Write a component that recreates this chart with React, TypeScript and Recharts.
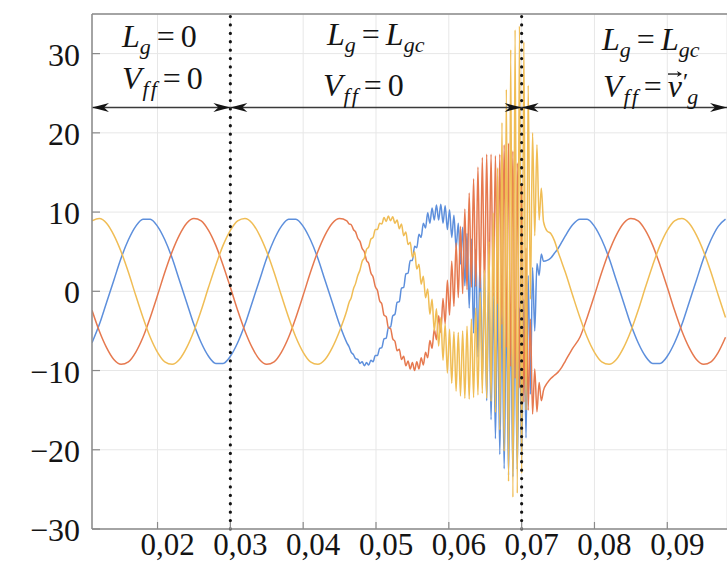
import React from 'react';
import { LineChart, Line, XAxis, YAxis, CartesianGrid, ReferenceLine, ReferenceDot } from 'recharts';

// ---- sample times (s) ----
const timeBefore = [
  0.011, 0.012, 0.013, 0.014, 0.015, 0.016, 0.017, 0.018, 0.019, 0.02,
  0.021, 0.022, 0.023, 0.024, 0.025, 0.026, 0.027, 0.028, 0.029, 0.03,
  0.031, 0.032, 0.033, 0.034, 0.035, 0.036, 0.037, 0.038, 0.039, 0.04,
  0.041, 0.042, 0.043, 0.044, 0.045, 0.046,
];
const timeUnstable = [
  0.0463, 0.0466, 0.0469, 0.0472, 0.0475, 0.0478, 0.0481, 0.0484, 0.0487, 0.049,
  0.0493, 0.0496, 0.0499, 0.0502, 0.0505, 0.0508, 0.0511, 0.0514, 0.0517, 0.052,
  0.0523, 0.0526, 0.0529, 0.0532, 0.0535, 0.0538, 0.0541, 0.0544, 0.0547, 0.055,
  0.0553, 0.0556, 0.0559, 0.0562, 0.0565, 0.0568, 0.0571, 0.0574, 0.0577, 0.058,
  0.0583, 0.0586, 0.0589, 0.0592, 0.0595, 0.0598, 0.0601, 0.0604, 0.0607, 0.061,
  0.0613, 0.0616, 0.0619, 0.0622, 0.0625, 0.0628, 0.0631, 0.0634, 0.0637, 0.064,
  0.0643, 0.0646, 0.0649, 0.0652, 0.0655, 0.0658, 0.0661, 0.0664, 0.0667, 0.067,
  0.0673, 0.0676, 0.0679, 0.0682, 0.0685, 0.0688, 0.0691, 0.0694, 0.0697, 0.07,
  0.0703, 0.0706, 0.0709, 0.0712, 0.0715, 0.0718, 0.0721, 0.0724, 0.0727,
];
const timeAfter = [
  0.073, 0.0735, 0.074, 0.0745, 0.075, 0.0755, 0.076, 0.077, 0.078, 0.079,
  0.08, 0.081, 0.082, 0.083, 0.084, 0.085, 0.086, 0.087, 0.088, 0.089,
  0.09, 0.091, 0.092, 0.093, 0.094, 0.095, 0.096, 0.097, 0.098,
];

// ---- phase a (blue) ----
const phaseABefore = [
  -6.5, -4.2, -1.4, 1.4, 4.2, 6.5, 8.2, 9.1, 9.1, 8.2,
  6.5, 4.2, 1.4, -1.4, -4.2, -6.5, -8.2, -9.1, -9.1, -8.2,
  -6.5, -4.2, -1.4, 1.4, 4.2, 6.5, 8.2, 9.1, 9.1, 8.2,
  6.5, 4.2, 1.4, -1.4, -4.2, -6.5,
];
const phaseAUnstable = [
  -7.0, -7.7, -8.0, -8.5, -8.6, -9.1, -8.9, -9.4, -9.0, -9.3,
  -8.7, -8.9, -8.1, -8.1, -7.2, -7.1, -6.0, -5.9, -4.6, -4.5,
  -3.1, -2.9, -1.4, -1.3, 0.4, 0.5, 2.2, 2.3, 3.9, 3.9,
  5.7, 5.5, 7.2, 6.8, 8.6, 8.0, 9.9, 8.6, 10.5, 9.0,
  10.9, 9.0, 11.0, 8.6, 10.8, 7.8, 10.3, 6.8, 9.6, 5.5,
  8.6, 3.4, 8.1, 0.7, 7.3, -2.1, 6.6, -5.3, 5.3, -8.3,
  4.1, -11.2, 2.6, -13.8, 1.0, -16.2, -0.2, -18.6, -1.1, -20.6,
  -1.6, -22.4, -2.0, -23.2, -2.5, -23.4, -2.3, -22.5, -2.1, -21.6,
  -1.0, -18.5, 2.0, -13.0, 3.0, -5.0, 3.5, 2.0, 4.7,
];
const phaseAAfter = [
  3.8, 3.9, 4.2, 4.8, 5.4, 6.2, 7.0, 8.4, 9.1, 9.1,
  8.2, 6.5, 4.2, 1.4, -1.4, -4.2, -6.5, -8.2, -9.1, -9.1,
  -8.2, -6.5, -4.2, -1.4, 1.4, 4.2, 6.5, 8.2, 9.1,
];

// ---- phase b (red) ----
const phaseBBefore = [
  -2.4, -5.0, -7.1, -8.6, -9.2, -8.9, -7.7, -5.8, -3.3, -0.5,
  2.4, 5.0, 7.1, 8.6, 9.2, 8.9, 7.7, 5.8, 3.3, 0.5,
  -2.4, -5.0, -7.1, -8.6, -9.2, -8.9, -7.7, -5.8, -3.3, -0.5,
  2.4, 5.0, 7.1, 8.6, 9.2, 8.9,
];
const phaseBUnstable = [
  8.5, 8.4, 7.8, 7.5, 6.7, 6.3, 5.4, 5.0, 3.9, 3.5,
  2.3, 1.8, 0.6, 0.1, -1.2, -1.6, -3.0, -3.2, -4.6, -4.7,
  -6.0, -6.3, -7.5, -7.3, -8.6, -8.2, -9.4, -8.8, -9.8, -9.0,
  -10.0, -8.9, -9.8, -8.4, -9.3, -7.7, -8.4, -6.2, -7.2, -4.8,
  -6.1, -3.1, -5.2, -0.9, -4.1, 1.4, -3.0, 3.8, -1.9, 6.1,
  -0.8, 8.2, -0.3, 10.4, 0.2, 12.4, 0.5, 14.2, 0.6, 15.7,
  0.4, 16.9, 0.2, 17.3, 0.0, 17.3, -0.6, 17.1, -1.6, 17.3,
  -4.2, 18.5, -7.1, 18.7, -9.5, 17.7, -11.0, 16.2, -12.2, 13.5,
  -14.0, 5.5, -15.0, -3.5, -15.5, -9.8, -15.2, -11.5, -13.8,
];
const phaseBAfter = [
  -12.5, -11.6, -11.0, -10.6, -10.2, -9.6, -8.8, -7.2, -5.8, -3.3,
  -0.5, 2.4, 5.0, 7.1, 8.6, 9.2, 8.9, 7.7, 5.8, 3.3,
  0.5, -2.4, -5.0, -7.1, -8.6, -9.2, -8.9, -7.7, -5.8,
];

// ---- phase c (yellow) ----
const phaseCBefore = [
  8.9, 9.2, 8.6, 7.1, 5.0, 2.4, -0.5, -3.3, -5.8, -7.7,
  -8.9, -9.2, -8.6, -7.1, -5.0, -2.4, 0.5, 3.3, 5.8, 7.7,
  8.9, 9.2, 8.6, 7.1, 5.0, 2.4, -0.5, -3.3, -5.8, -7.7,
  -8.9, -9.2, -8.6, -7.1, -5.0, -2.4,
];
const phaseCUnstable = [
  -1.4, -0.8, 0.3, 1.0, 2.0, 2.7, 3.8, 4.2, 5.3, 5.6,
  6.6, 6.8, 7.8, 7.8, 8.6, 8.5, 9.3, 8.8, 9.5, 8.9,
  9.4, 8.6, 9.0, 7.9, 8.5, 7.0, 7.5, 5.9, 6.2, 4.3,
  5.0, 2.8, 3.4, 0.9, 1.9, -0.8, 0.3, -2.9, -1.0, -5.0,
  -2.2, -6.9, -3.3, -8.7, -4.1, -10.3, -4.8, -11.6, -5.1, -12.6,
  -5.2, -13.2, -5.0, -13.5, -4.4, -13.6, -3.5, -13.4, -2.1, -13.1,
  -0.1, -12.9, 2.7, -13.5, 6.3, -13.9, 9.9, -15.3, 15.6, -17.5,
  21.3, -20.2, 25.5, -24.0, 30.5, -26.0, 33.0, -25.5, 33.5, -23.0,
  31.5, -15.0, 26.0, -1.0, 20.0, 7.0, 18.5, 9.0, 13.0,
];
const phaseCAfter = [
  8.8, 7.6, 7.3, 6.4, 5.0, 3.7, 2.4, -0.5, -3.3, -5.8,
  -7.7, -8.9, -9.2, -8.6, -7.1, -5.0, -2.4, 0.5, 3.3, 5.8,
  7.7, 8.9, 9.2, 8.6, 7.1, 5.0, 2.4, -0.5, -3.3,
];

// ---- axes ----
const xTicks = [0.02, 0.03, 0.04, 0.05, 0.06, 0.07, 0.08, 0.09];
const xTickLabels = ['0,02', '0,03', '0,04', '0,05', '0,06', '0,07', '0,08', '0,09'];
const yTicks = [-30, -20, -10, 0, 10, 20, 30];
const yTickLabels = ['\u221230', '\u221220', '\u221210', '0', '10', '20', '30'];
const xDomain: [number, number] = [0.011, 0.0982];
const yDomain: [number, number] = [-30, 35];

// mode boundaries and arrow level
const switchTimes = [0.03, 0.07];
const arrowLevel = 23.2;

const time = [...timeBefore, ...timeUnstable, ...timeAfter];
const phaseA = [...phaseABefore, ...phaseAUnstable, ...phaseAAfter];
const phaseB = [...phaseBBefore, ...phaseBUnstable, ...phaseBAfter];
const phaseC = [...phaseCBefore, ...phaseCUnstable, ...phaseCAfter];

const data = time.map((t, i) => ({ t, a: phaseA[i], b: phaseB[i], c: phaseC[i] }));

const FONT = 'Liberation Serif, Times New Roman, serif';
const AXIS = '#8a8a8a';
const INK = '#141414';

const renderXTick = (props: any) => {
  const { x, y, payload } = props;
  const i = xTicks.findIndex((v) => Math.abs(v - payload.value) < 1e-9);
  return (
    <g>
      <line x1={x} y1={y} x2={x} y2={y - 7} stroke={AXIS} strokeWidth={1.2} />
      <text x={x + 10} y={y + 26} textAnchor="middle" fontFamily={FONT} fontSize={31} fill={INK}>
        {xTickLabels[i]}
      </text>
    </g>
  );
};

const renderTopTick = (props: any) => {
  const { x, y } = props;
  return <line x1={x} y1={y} x2={x} y2={y + 7} stroke={AXIS} strokeWidth={1.2} />;
};

const renderYTick = (props: any) => {
  const { x, y, payload } = props;
  const i = yTicks.indexOf(payload.value);
  return (
    <g>
      <line x1={x} y1={y} x2={x + 8} y2={y} stroke={AXIS} strokeWidth={1.2} />
      <text x={x - 12} y={y + 12} textAnchor="end" fontFamily={FONT} fontSize={32} fill={INK}>
        {yTickLabels[i]}
      </text>
    </g>
  );
};

const makeArrow = (startHead: boolean, endHead: boolean) => (p: any) => {
  const { x1, y1, x2, y2 } = p;
  const L = 17;
  const W = 4.5;
  return (
    <g>
      <line x1={x1} y1={y1} x2={x2} y2={y2} stroke="#3a3a3a" strokeWidth={1.3} />
      {startHead && (
        <polygon
          points={`${x1},${y1} ${x1 + L},${y1 - W} ${x1 + L - 5},${y1} ${x1 + L},${y1 + W}`}
          fill={INK}
        />
      )}
      {endHead && (
        <polygon
          points={`${x2},${y2} ${x2 - L},${y2 - W} ${x2 - L + 5},${y2} ${x2 - L},${y2 + W}`}
          fill={INK}
        />
      )}
    </g>
  );
};

const SUB = 22;
const SUBDY = 7;
const EQ = 6;

const LgText = (rhs: 'zero' | 'gc') => (p: any) => (
  <text x={p.cx} y={p.cy} fontFamily={FONT} fontSize={32} fill={INK}>
    <tspan fontStyle="italic">L</tspan>
    <tspan fontStyle="italic" fontSize={SUB} dy={SUBDY}>g</tspan>
    <tspan dy={-SUBDY} dx={EQ}>=</tspan>
    {rhs === 'zero' ? (
      <tspan dx={EQ}>0</tspan>
    ) : (
      <>
        <tspan dx={EQ} fontStyle="italic">L</tspan>
        <tspan fontStyle="italic" fontSize={SUB} dy={SUBDY}>gc</tspan>
      </>
    )}
  </text>
);

const VffText = (rhs: 'zero' | 'vg') => (p: any) => (
  <g>
    <text x={p.cx} y={p.cy} fontFamily={FONT} fontSize={32} fill={INK}>
      <tspan fontStyle="italic">V</tspan>
      <tspan fontStyle="italic" fontSize={SUB} dy={SUBDY} dx={1}>f</tspan>
      <tspan fontStyle="italic" fontSize={SUB} dx={2}>f</tspan>
      <tspan dy={-SUBDY} dx={EQ}>=</tspan>
      {rhs === 'zero' ? (
        <tspan dx={EQ}>0</tspan>
      ) : (
        <>
          <tspan dx={EQ} fontStyle="italic">v</tspan>
          <tspan fontSize={24} dx={1} dy={-8}>{'\u2032'}</tspan>
          <tspan fontStyle="italic" fontSize={SUB} dx={-1} dy={15}>g</tspan>
        </>
      )}
    </text>
    {rhs === 'vg' && (
      <g>
        <line x1={p.cx + 65} y1={p.cy - 23} x2={p.cx + 77} y2={p.cy - 23} stroke={INK} strokeWidth={1.3} />
        <polygon
          points={`${p.cx + 79},${p.cy - 23} ${p.cx + 74},${p.cy - 26} ${p.cx + 75.5},${p.cy - 23} ${p.cx + 74},${p.cy - 20}`}
          fill={INK}
        />
      </g>
    )}
  </g>
);

const annotations = [
  { x: 0.01512, y: 30.83, shape: LgText('zero') },
  { x: 0.01512, y: 25.5, shape: VffText('zero') },
  { x: 0.04327, y: 31.09, shape: LgText('gc') },
  { x: 0.04272, y: 24.65, shape: VffText('zero') },
  { x: 0.08104, y: 30.46, shape: LgText('gc') },
  { x: 0.08117, y: 24.52, shape: VffText('vg') },
];

export default function App() {
  return (
    <div
      style={{
        position: 'absolute',
        left: 0,
        top: 0,
        width: 727,
        height: 561,
        overflow: 'hidden',
        background: '#ffffff',
      }}
    >
      <LineChart width={727} height={561} data={data} margin={{ top: 14, right: 0, bottom: 0, left: 0 }}>
        <CartesianGrid stroke="#e7e7e7" strokeWidth={1} />
        <XAxis
          dataKey="t"
          type="number"
          domain={xDomain}
          ticks={xTicks}
          interval={0}
          allowDataOverflow
          height={32}
          tickSize={0}
          tickMargin={0}
          tickLine={false}
          axisLine={{ stroke: AXIS, strokeWidth: 1.5 }}
          tick={renderXTick}
        />
        <XAxis
          xAxisId="top"
          orientation="top"
          dataKey="t"
          type="number"
          domain={xDomain}
          ticks={xTicks}
          interval={0}
          allowDataOverflow
          height={0}
          tickSize={0}
          tickMargin={0}
          tickLine={false}
          axisLine={{ stroke: AXIS, strokeWidth: 1.5 }}
          tick={renderTopTick}
        />
        <YAxis
          type="number"
          domain={yDomain}
          ticks={yTicks}
          interval={0}
          allowDataOverflow
          width={92}
          tickSize={0}
          tickMargin={0}
          tickLine={false}
          axisLine={{ stroke: AXIS, strokeWidth: 1.5 }}
          tick={renderYTick}
        />
        <ReferenceLine y={yDomain[1]} stroke={AXIS} strokeWidth={1.5} ifOverflow="visible" />
        <Line dataKey="a" type="monotone" stroke="#5d8fdc" strokeWidth={1.5} dot={false} isAnimationActive={false} />
        <Line dataKey="b" type="monotone" stroke="#e6794f" strokeWidth={1.5} dot={false} isAnimationActive={false} />
        <Line dataKey="c" type="monotone" stroke="#f0bd55" strokeWidth={1.5} dot={false} isAnimationActive={false} />
        {switchTimes.map((s) => (
          <ReferenceLine
            key={`sw${s}`}
            x={s}
            stroke={INK}
            strokeWidth={3.2}
            strokeDasharray="0.1 8.3"
            strokeLinecap="round"
            ifOverflow="visible"
          />
        ))}
        <ReferenceLine
          segment={[{ x: xDomain[0], y: arrowLevel }, { x: switchTimes[0], y: arrowLevel }]}
          shape={makeArrow(true, true)}
          ifOverflow="visible"
        />
        <ReferenceLine
          segment={[{ x: switchTimes[0], y: arrowLevel }, { x: switchTimes[1], y: arrowLevel }]}
          shape={makeArrow(true, true)}
          ifOverflow="visible"
        />
        <ReferenceLine
          segment={[{ x: switchTimes[1], y: arrowLevel }, { x: xDomain[1], y: arrowLevel }]}
          shape={makeArrow(true, true)}
          ifOverflow="visible"
        />
        {annotations.map((a, i) => (
          <ReferenceDot key={`an${i}`} x={a.x} y={a.y} r={0} shape={a.shape} ifOverflow="visible" />
        ))}
      </LineChart>
    </div>
  );
}
